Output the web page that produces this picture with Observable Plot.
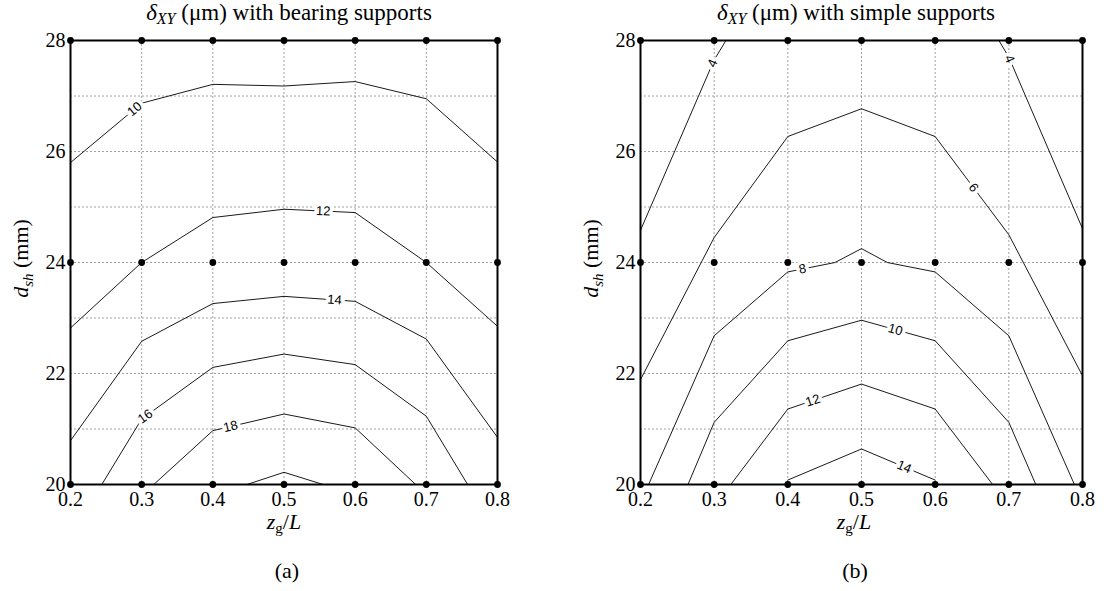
<!DOCTYPE html>
<html><head><meta charset="utf-8">
<script src="https://cdn.jsdelivr.net/npm/d3@7"></script>
<script src="https://cdn.jsdelivr.net/npm/@observablehq/plot@0.6"></script>
<style>
body{margin:0;background:#fff;font-family:"Liberation Serif","Times New Roman",serif;color:#000;}
#wrap{position:relative;width:1104px;height:591px;overflow:hidden;}
.txt{position:absolute;width:400px;line-height:16px;text-align:center;white-space:nowrap;font-size:22px;}
.title{font-size:23px;line-height:18px;}
.title sub{font-size:16px;}
sub{font-size:15px;line-height:0;vertical-align:-4px;}
svg.chart{position:absolute;top:28px;display:block;}
</style></head><body>
<div id="wrap"></div>
<script>
// sample grid
const zL = [0.2, 0.3, 0.4, 0.5, 0.6, 0.7, 0.8];
const dSh = [20, 24, 28];
const yTicks = [20, 22, 24, 26, 28];
const xGrid = [0.3, 0.4, 0.5, 0.6, 0.7];
const yGrid = [21, 22, 23, 24, 25, 26, 27];

// (a) bearing supports — contour levels
const a10x = [0.2, 0.3, 0.4, 0.5, 0.6, 0.7, 0.8];
const a10y = [25.80, 26.87, 27.21, 27.18, 27.26, 26.95, 25.81];
const a12x = [0.2, 0.3, 0.4, 0.5, 0.6, 0.7, 0.8];
const a12y = [22.82, 24.0, 24.81, 24.96, 24.90, 24.0, 22.85];
const a14x = [0.2, 0.3, 0.4, 0.5, 0.6, 0.7, 0.8];
const a14y = [20.79, 22.58, 23.26, 23.39, 23.30, 22.62, 20.85];
const a16x = [0.244, 0.3, 0.4, 0.5, 0.6, 0.7, 0.758];
const a16y = [20, 21.18, 22.11, 22.35, 22.16, 21.23, 20];
const a18x = [0.317, 0.4, 0.5, 0.6, 0.685];
const a18y = [20, 20.97, 21.27, 21.02, 20];
const a20x = [0.448, 0.5, 0.555];
const a20y = [20, 20.22, 20];
const aLabelLevel = [10, 12, 14, 16, 18];
const aLabelX = [0.29, 0.555, 0.571, 0.305, 0.425];

// (b) simple supports — contour levels
const b4Lx = [0.2, 0.3, 0.316];
const b4Ly = [24.58, 27.65, 28];
const b4Rx = [0.6865, 0.7, 0.8];
const b4Ry = [28, 27.7, 24.61];
const b6x = [0.2, 0.3, 0.4, 0.5, 0.6, 0.7, 0.8];
const b6y = [21.89, 24.45, 26.27, 26.77, 26.27, 24.50, 21.96];
const b8x = [0.211, 0.3, 0.4, 0.464, 0.5, 0.535, 0.6, 0.7, 0.789];
const b8y = [20, 22.68, 23.83, 24.0, 24.25, 24.0, 23.83, 22.68, 20];
const b10x = [0.2645, 0.3, 0.4, 0.5, 0.6, 0.7, 0.7366];
const b10y = [20, 21.12, 22.59, 22.96, 22.59, 21.12, 20];
const b12x = [0.3226, 0.4, 0.5, 0.6, 0.678];
const b12y = [20, 21.36, 21.81, 21.36, 20];
const b14x = [0.4, 0.5, 0.6];
const b14y = [20.08, 20.64, 20.08];
const bLabelLevel = [4, 4, 6, 8, 10, 12, 14];
const bLabelX = [0.298, 0.701, 0.652, 0.42, 0.546, 0.434, 0.558];

const SERIF = "'Liberation Serif', 'Times New Roman', Times, serif";
const SANS = "'Liberation Sans', Arial, Helvetica, sans-serif";

function buildContours(list) {
  return list.map(([level, xs, ys], i) => ({level, id: i, xs, ys}));
}
const contoursA = buildContours([[10, a10x, a10y], [12, a12x, a12y], [14, a14x, a14y], [16, a16x, a16y], [18, a18x, a18y], [20, a20x, a20y]]);
const contoursB = buildContours([[4, b4Lx, b4Ly], [4, b4Rx, b4Ry], [6, b6x, b6y], [8, b8x, b8y], [10, b10x, b10y], [12, b12x, b12y], [14, b14x, b14y]]);

function rowsOf(contours) {
  const rows = [];
  for (const c of contours) c.xs.forEach((x, j) => rows.push({id: c.id, level: c.level, x, y: c.ys[j]}));
  return rows;
}

function labelsOf(contours, levels, xsL, kX, kY) {
  const out = [];
  levels.forEach((lv, i) => {
    const x = xsL[i];
    for (const c of contours) {
      if (c.level !== lv) continue;
      for (let j = 0; j < c.xs.length - 1; j++) {
        const x0 = c.xs[j], x1 = c.xs[j + 1];
        if (x >= x0 && x <= x1) {
          const t = (x - x0) / (x1 - x0);
          const y = c.ys[j] + t * (c.ys[j + 1] - c.ys[j]);
          const ang = Math.atan2(-(c.ys[j + 1] - c.ys[j]) * kY, (x1 - x0) * kX) * 180 / Math.PI;
          out.push({x, y, text: String(lv), rotate: ang});
          return;
        }
      }
    }
  });
  return out;
}

const points = [];
for (const y of dSh) for (const x of zL) points.push({x, y});

const wrap = document.getElementById("wrap");
function addText(cls, html, cx, top) {
  const d = document.createElement("div");
  d.className = "txt " + cls;
  d.style.left = (cx - 200) + "px";
  d.style.top = top + "px";
  d.innerHTML = html;
  wrap.appendChild(d);
  return d;
}

function panel({left, width, marginLeft, marginRight, contours, labelLevels, labelXs, titleText, titleCx, xlabCx, capCx, cap}) {
  const height = 484, marginTop = 12, marginBottom = 28;
  const pw = width - marginLeft - marginRight, ph = height - marginTop - marginBottom;
  const kX = pw / 0.6, kY = ph / 8;
  const labels = labelsOf(contours, labelLevels, labelXs, kX, kY);
  const labelSet = new Set(labels.map(d => d.text));
  const plot = Plot.plot({
    width, height, marginTop, marginBottom, marginLeft, marginRight,
    style: {fontFamily: SERIF, fontSize: "20px", background: "white", color: "black", overflow: "visible"},
    x: {domain: [0.2, 0.8], ticks: zL, tickFormat: d3.format(".1f"), tickSize: 0, tickPadding: 7, label: null},
    y: {domain: [20, 28], ticks: yTicks, tickSize: 0, tickPadding: 5, label: null},
    marks: [
      Plot.ruleX(xGrid, {stroke: "#8a8a8a", strokeDasharray: "2,2", strokeWidth: 0.8}),
      Plot.ruleY(yGrid, {stroke: "#8a8a8a", strokeDasharray: "2,2", strokeWidth: 0.8}),
      Plot.line(rowsOf(contours), {x: "x", y: "y", z: "id", stroke: "black", strokeWidth: 0.9}),
      Plot.text(labels, {x: "x", y: "y", text: "text", rotate: "rotate", fontSize: 13, fill: "black", stroke: "white", strokeWidth: 7}),
      Plot.dot(points, {x: "x", y: "y", r: 3.4, fill: "black", stroke: "none"}),
      Plot.frame({stroke: "black", strokeWidth: 2}),
      Plot.text(["YLABEL"], {text: d => d, frameAnchor: "left", textAnchor: "middle", dx: -50, dy: -4, rotate: -90, fontSize: 22})
    ]
  });
  plot.classList.add("chart");
  plot.style.left = left + "px";
  const root = d3.select(plot);
  root.selectAll("text").style("font-family", SERIF);
  root.selectAll("text").each(function () {
    const t = d3.select(this);
    const s = this.textContent;
    if (labelSet.has(s)) {
      t.style("font-family", SANS).style("font-size", "13px");
    } else if (s === "YLABEL") {
      t.text(null).style("font-size", "22px").attr("text-anchor", "middle");
      t.append("tspan").attr("font-style", "italic").text("d");
      t.append("tspan").attr("font-style", "italic").attr("font-size", 15).attr("dy", 5).text("sh");
      t.append("tspan").attr("dy", -5).text(" (mm)");
    } else {
      t.style("font-size", "20px");
    }
  });
  wrap.appendChild(plot);
  addText("title", `<i>δ</i><sub><i>XY</i></sub> (μm) with ${titleText}`, titleCx, 4);
  addText("xlab", `<i>z</i><sub>g</sub>/<i>L</i>`, xlabCx, 514);
  addText("cap", cap, capCx, 563);
}

panel({left: 0, width: 560, marginLeft: 70, marginRight: 63, contours: contoursA, labelLevels: aLabelLevel, labelXs: aLabelX,
  titleText: "bearing supports", titleCx: 289, xlabCx: 284, capCx: 287, cap: "(a)"});
panel({left: 560, width: 544, marginLeft: 80, marginRight: 22, contours: contoursB, labelLevels: bLabelLevel, labelXs: bLabelX,
  titleText: "simple supports", titleCx: 856, xlabCx: 854, capCx: 855, cap: "(b)"});
</script>
</body></html>
